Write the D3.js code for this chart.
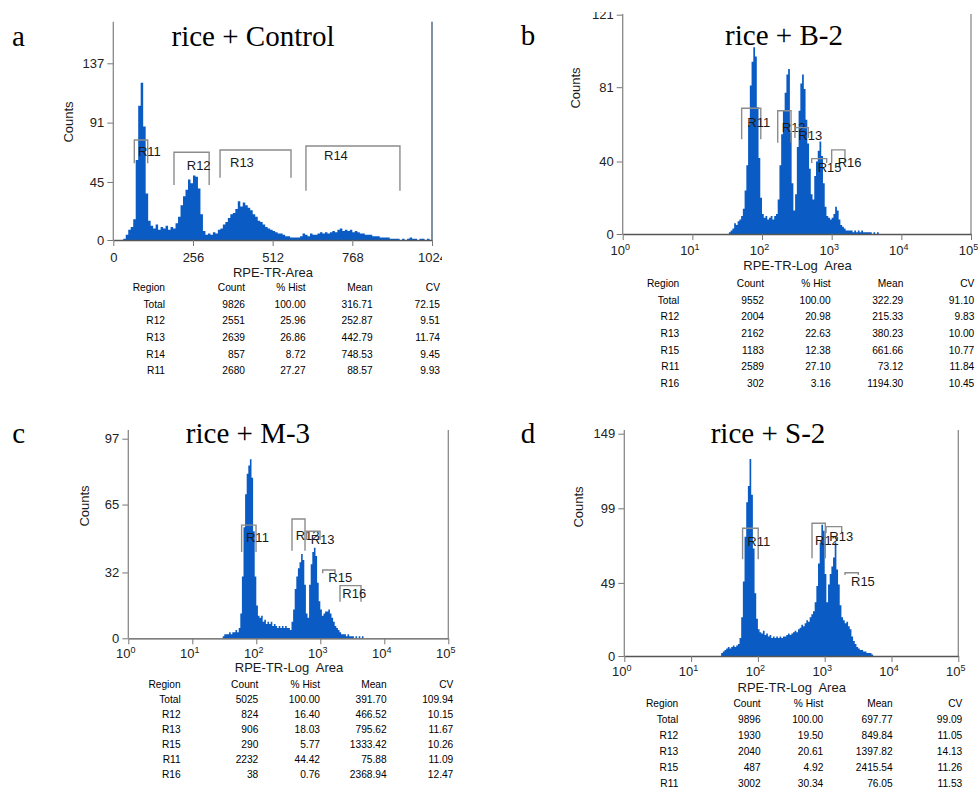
<!DOCTYPE html>
<html>
<head>
<meta charset="utf-8">
<script src="https://cdn.jsdelivr.net/npm/d3@7"></script>
<style>
  body { margin: 0; background: #fff; }
  svg text { font-family: "Liberation Sans", Arial, sans-serif; }
  svg text.serif { font-family: "Liberation Serif", "Times New Roman", serif; }
</style>
</head>
<body>
<div id="chart"></div>
<script>
// ---------- Data ----------
// histogram counts
// a: linear channel, bins of 8 starting at 0
const ctrlCounts = [0,0,0,0,1,4,8,10,16,62, 104,122,88,36,15,11,9,12,8,10,
  9,11,8,10,9,13,18,27,34,39, 47,44,50,49,40,20,7,4,5,4,
  6,5,8,9,12,14,17,20,21,24, 30,26,29,27,25,23,20,18,15,14,
  12,10,9,8,7,6,5,5,4,3, 3,2,2,2,2,3,5,4,3,5,
  4,4,5,6,5,6,5,6,7,6, 8,9,7,8,7,8,6,7,6,5,
  5,4,4,4,3,3,3,2,2,2, 2,1,1,1,1,0,1,0,1,2,
  1,1,0,1,1,0,1,0];
// b, c, d: log channel, bins of 0.025 decade
const b2Counts = [0,1,2,3,6,5,7,8,10,14, 24,38,60,82,95,103,98,70,42,20,
  11,9,10,8,9,10,8,10,11,19, 38,55,68,78,88,91,56,28,13,22,
  48,68,83,88,80,63,50,36,22,19, 32,40,46,51,43,28,15,10,9,8,
  9,11,15,13,8,5,4,3,2,2, 2,2,1,2,1,2,1,2,1,1,
  1,1,1,0,1,0,1,0];
const m3Counts = [0,1,2,2,2,3,2,3,3,4, 3,5,12,30,54,70,80,84,87,78,
  52,30,16,11,10,11,8,9,7,8, 7,8,6,7,6,5,6,5,6,5,
  6,5,5,4,8,14,24,30,34,37, 41,38,26,12,10,26,36,42,44,40,
  27,18,14,11,12,13,13,14,12,10, 8,6,5,4,3,2,2,2,1,2,
  1,1,1,0,1,0,1,0,1];
const s2Counts = [2,3,4,5,6,5,6,7,6,7, 8,12,26,50,80,103,114,132,108,72,
  42,25,18,16,15,17,14,15,13,14, 12,13,12,13,12,13,12,13,13,14,
  15,14,15,16,17,16,18,19,21,20, 22,24,23,26,28,30,36,47,62,76,
  88,84,55,36,48,55,60,66,76,58, 48,34,26,24,22,23,20,18,13,10,
  8,6,5,4,4,3,3,2,2,2, 1,0];

const ctrlBinWidth = 8;
const logBinStep = 0.025;
const b2FirstBin = 1.5, m3FirstBin = 1.45, s2FirstBin = 1.45; // log10 of first bin edge

// tick values
const ctrlXTicks = [0, 256, 512, 768, 1024];
const logXTicks = [1, 10, 100, 1000, 10000, 100000];
const ctrlYTicks = [0, 45, 91, 137];
const b2YTicks = [0, 40, 81, 121];
const m3YTicks = [0, 32, 65, 97];
const s2YTicks = [0, 49, 99, 149];

// gated regions: channel range, bracket top/bottom in counts, label anchor
const ctrlRegions = [
  {name: "R11", from: 67.5, to: 110.5, top: 77.5, bottom: 59.5, lx: 79, ly: 68.4},
  {name: "R12", from: 195, to: 308, top: 68, bottom: 42.6, lx: 236, ly: 57.6},
  {name: "R13", from: 343, to: 571, top: 69.8, bottom: 48.3, lx: 375, ly: 60.2},
  {name: "R14", from: 619, to: 921, top: 72.9, bottom: 38.2, lx: 677, ly: 65.9}
];
const b2Regions = [
  {name: "R11", from: 51, to: 96, top: 69.4, bottom: 52.3, lx: 61.5, ly: 61.6},
  {name: "R12", from: 168, to: 261, top: 68, bottom: 50.4, lx: 192, ly: 58.9},
  {name: "R13", from: 297, to: 462, top: 58.7, bottom: 53, lx: 332, ly: 54.6},
  {name: "R15", from: 517, to: 848, top: 41.6, bottom: 39.2, lx: 630, ly: 36.6},
  {name: "R16", from: 1000, to: 1550, top: 46.4, bottom: 39, lx: 1220, ly: 39.3}
];
const m3Regions = [
  {name: "R11", from: 59, to: 99, top: 55, bottom: 42, lx: 69, ly: 49.1},
  {name: "R12", from: 361, to: 577, top: 58, bottom: 42.6, lx: 413, ly: 50.2},
  {name: "R13", from: 613, to: 989, top: 52, bottom: 47.8, lx: 708, ly: 47.8},
  {name: "R15", from: 1090, to: 1698, top: 33.2, bottom: 31.6, lx: 1334, ly: 29.4},
  {name: "R16", from: 2032, to: 4325, top: 25.6, bottom: 17.8, lx: 2207, ly: 21.9}
];
const s2Regions = [
  {name: "R11", from: 59, to: 101, top: 85.6, bottom: 64.8, lx: 69.4, ly: 76.6},
  {name: "R12", from: 646, to: 1021, top: 89, bottom: 65.5, lx: 716, ly: 77.3},
  {name: "R13", from: 1046, to: 1796, top: 86.7, bottom: 82.2, lx: 1172, ly: 80.4},
  {name: "R15", from: 2014, to: 3186, top: 55.8, bottom: 54.3, lx: 2477, ly: 50.3}
];

// statistics tables
const tableHead = ["Region", "Count", "% Hist", "Mean", "CV"];
const ctrlTable = [
  ["Total", "9826", "100.00", "316.71", "72.15"],
  ["R12", "2551", "25.96", "252.87", "9.51"],
  ["R13", "2639", "26.86", "442.79", "11.74"],
  ["R14", "857", "8.72", "748.53", "9.45"],
  ["R11", "2680", "27.27", "88.57", "9.93"]
];
const b2Table = [
  ["Total", "9552", "100.00", "322.29", "91.10"],
  ["R12", "2004", "20.98", "215.33", "9.83"],
  ["R13", "2162", "22.63", "380.23", "10.00"],
  ["R15", "1183", "12.38", "661.66", "10.77"],
  ["R11", "2589", "27.10", "73.12", "11.84"],
  ["R16", "302", "3.16", "1194.30", "10.45"]
];
const m3Table = [
  ["Total", "5025", "100.00", "391.70", "109.94"],
  ["R12", "824", "16.40", "466.52", "10.15"],
  ["R13", "906", "18.03", "795.62", "11.67"],
  ["R15", "290", "5.77", "1333.42", "10.26"],
  ["R11", "2232", "44.42", "75.88", "11.09"],
  ["R16", "38", "0.76", "2368.94", "12.47"]
];
const s2Table = [
  ["Total", "9896", "100.00", "697.77", "99.09"],
  ["R12", "1930", "19.50", "849.84", "11.05"],
  ["R13", "2040", "20.61", "1397.82", "14.13"],
  ["R15", "487", "4.92", "2415.54", "11.26"],
  ["R11", "3002", "30.34", "76.05", "11.53"]
];

// ---------- Layout ----------
const panels = [
  {id: "a", letter: "a", title: "rice + Control", log: false,
   counts: ctrlCounts, yTicks: ctrlYTicks, xTicks: ctrlXTicks, regions: ctrlRegions, table: ctrlTable,
   left: 113.3, right: 432, base: 240, topTickPx: 63.3, axisTop: 21.7, border: "#3c5675",
   letterX: 12, titleX: 253, titleY: 46, tickLabelY: 262,
   axisLabel: "RPE-TR-Area", axisLabelX: 273, axisLabelY: 277, countsX: 68, countsY: 122,
   tableY: 287.3, rowH: 16.7, cols: [165, 245, 305.7, 372.7, 440], clip: [0, 0, 442, 400]},
  {id: "b", letter: "b", title: "rice + B-2", log: true, first: b2FirstBin,
   counts: b2Counts, yTicks: b2YTicks, xTicks: logXTicks, regions: b2Regions, table: b2Table,
   left: 622.7, right: 971, base: 234, topTickPx: 14.7, axisTop: 14, border: "#8a8a8a",
   letterX: 520.7, titleX: 784, titleY: 45, tickLabelY: 254.5,
   axisLabel: "RPE-TR-Log  Area", axisLabelX: 797.5, axisLabelY: 270, countsX: 575, countsY: 88,
   tableY: 283.3, rowH: 16.7, cols: [679.3, 764, 830.7, 903.3, 974.3], clip: [490, 12, 488, 388]},
  {id: "c", letter: "c", title: "rice + M-3", log: true, first: m3FirstBin,
   counts: m3Counts, yTicks: m3YTicks, xTicks: logXTicks, regions: m3Regions, table: m3Table,
   left: 128.3, right: 448.3, base: 638.3, topTickPx: 438.7, axisTop: 430, border: "#8a8a8a",
   letterX: 12.3, titleX: 248, titleY: 443, tickLabelY: 658,
   axisLabel: "RPE-TR-Log  Area", axisLabelX: 289, axisLabelY: 672, countsX: 84, countsY: 506,
   tableY: 684.3, rowH: 15.1, cols: [180.7, 258.3, 320, 386.7, 453.3], clip: null},
  {id: "d", letter: "d", title: "rice + S-2", log: true, first: s2FirstBin,
   counts: s2Counts, yTicks: s2YTicks, xTicks: logXTicks, regions: s2Regions, table: s2Table,
   left: 624.3, right: 958.3, base: 656, topTickPx: 433.7, axisTop: 430, border: "#8a8a8a",
   letterX: 520.7, titleX: 768, titleY: 443, tickLabelY: 676,
   axisLabel: "RPE-TR-Log  Area", axisLabelX: 791.7, axisLabelY: 692, countsX: 578, countsY: 507,
   tableY: 703.3, rowH: 16.1, cols: [678.3, 760.7, 823.3, 892.7, 962.3], clip: null}
];

const histColor = "#0a5cc4";
const tickFont = 13;
const supDigits = {"1": "0", "10": "1", "100": "2", "1000": "3", "10000": "4", "100000": "5"};

const svg = d3.select("#chart")
  .append("svg")
  .attr("width", 978)
  .attr("height", 792);

const defs = svg.append("defs");

panels.forEach((p) => {
  if (p.clip) {
    defs.append("clipPath").attr("id", `clip-${p.id}`)
      .append("rect")
      .attr("x", p.clip[0]).attr("y", p.clip[1])
      .attr("width", p.clip[2]).attr("height", p.clip[3]);
  }
  const g = svg.append("g")
    .attr("clip-path", p.clip ? `url(#clip-${p.id})` : null);

  const xScale = p.log
    ? d3.scaleLog().domain([1, 1e5]).range([p.left, p.right])
    : d3.scaleLinear().domain([0, 1024]).range([p.left, p.right]);
  const yScale = d3.scaleLinear()
    .domain([0, p.yTicks[p.yTicks.length - 1]])
    .range([p.base, p.topTickPx]);

  // bin edges -> step points
  const edges = d3.range(p.counts.length + 1).map((i) =>
    p.log ? Math.pow(10, p.first + i * logBinStep) : i * ctrlBinWidth);
  const pts = p.counts.map((c, i) => [edges[i], c]);
  pts.push([edges[edges.length - 1], p.counts[p.counts.length - 1]]);

  const area = d3.area()
    .x((d) => xScale(d[0]))
    .y0(p.base)
    .y1((d) => yScale(d[1]))
    .curve(d3.curveStepAfter);

  g.append("path")
    .datum(pts)
    .attr("d", area)
    .attr("fill", histColor);

  // y axis
  const yAxis = d3.axisLeft(yScale)
    .tickValues(p.yTicks)
    .tickSize(6)
    .tickPadding(3)
    .tickSizeOuter(0);
  const yg = g.append("g")
    .attr("transform", `translate(${p.left},0)`)
    .call(yAxis);
  yg.select(".domain").remove();
  yg.selectAll("line").attr("stroke", "#777");
  yg.selectAll("text")
    .attr("font-size", tickFont)
    .attr("fill", "#222");

  g.append("line")
    .attr("x1", p.left).attr("x2", p.left)
    .attr("y1", p.axisTop).attr("y2", p.base)
    .attr("stroke", "#888").attr("stroke-width", 1.3);
  g.append("line")
    .attr("x1", p.right).attr("x2", p.right)
    .attr("y1", p.axisTop).attr("y2", p.base)
    .attr("stroke", p.border).attr("stroke-width", 1.3);

  // x axis
  const pad = p.tickLabelY - p.base - 6 - 0.71 * tickFont;
  const xAxis = d3.axisBottom(xScale)
    .tickValues(p.xTicks)
    .tickSize(6)
    .tickPadding(pad)
    .tickSizeOuter(0)
    .tickFormat((d) => p.log ? "10" : d);
  const xg = g.append("g")
    .attr("transform", `translate(0,${p.base})`)
    .call(xAxis);
  xg.select(".domain").attr("stroke", "#555").attr("stroke-width", 1.3);
  xg.selectAll("line").attr("stroke", "#777");
  xg.selectAll("text")
    .attr("font-size", tickFont)
    .attr("fill", "#222");
  if (p.log) {
    xg.selectAll("text")
      .attr("dx", -3)
      .append("tspan")
      .attr("font-size", 9)
      .attr("dy", -5)
      .text((d) => supDigits[String(d)]);
  }

  // region brackets
  const rg = g.append("g");
  p.regions.forEach((r) => {
    const x0 = xScale(r.from), x1 = xScale(r.to);
    const yt = yScale(r.top), yb = yScale(r.bottom);
    rg.append("path")
      .attr("d", `M${x0},${yb}V${yt}H${x1}V${yb}`)
      .attr("fill", "none")
      .attr("stroke", "#8c8c8c")
      .attr("stroke-width", 1.4);
    rg.append("text")
      .attr("x", xScale(r.lx))
      .attr("y", yScale(r.ly))
      .attr("dy", "0.35em")
      .attr("font-size", 13)
      .attr("fill", "#1a1a1a")
      .text(r.name);
  });

  // labels
  g.append("text")
    .attr("x", p.axisLabelX)
    .attr("y", p.axisLabelY)
    .attr("text-anchor", "middle")
    .attr("font-size", 13)
    .attr("fill", "#1a1a1a")
    .style("white-space", "pre")
    .text(p.axisLabel);

  g.append("text")
    .attr("transform", `translate(${p.countsX},${p.countsY}) rotate(-90)`)
    .attr("text-anchor", "middle")
    .attr("dy", "0.35em")
    .attr("font-size", 13)
    .attr("fill", "#1a1a1a")
    .text("Counts");

  g.append("text")
    .attr("class", "serif")
    .attr("x", p.titleX)
    .attr("y", p.titleY)
    .attr("text-anchor", "middle")
    .attr("font-size", 29)
    .text(p.title);

  svg.append("text")
    .attr("class", "serif")
    .attr("x", p.letterX)
    .attr("y", p.titleY)
    .attr("font-size", 29)
    .text(p.letter);

  // statistics table
  const rows = [tableHead].concat(p.table);
  const tg = g.append("g").attr("font-size", 10.2).attr("fill", "#000");
  rows.forEach((row, ri) => {
    row.forEach((cell, ci) => {
      tg.append("text")
        .attr("x", p.cols[ci])
        .attr("y", p.tableY + ri * p.rowH)
        .attr("dy", "0.35em")
        .attr("text-anchor", "end")
        .text(cell);
    });
  });
});
</script>
</body>
</html>
